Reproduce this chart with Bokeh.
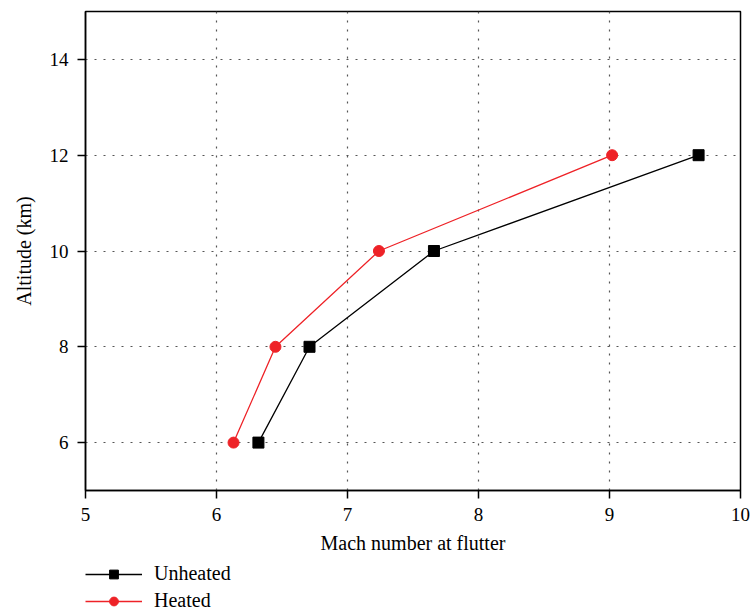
from bokeh.plotting import figure
from bokeh.layouts import column
from bokeh.models import Range1d, FixedTicker, Legend, LegendItem
from bokeh.embed import file_html
from bokeh.resources import INLINE

altitude_km = [6, 8, 10, 12]
mach_unheated = [6.32, 6.71, 7.66, 9.68]
mach_heated = [6.13, 6.45, 7.24, 9.02]
x_ticks = [5, 6, 7, 8, 9, 10]
y_ticks = [6, 8, 10, 12, 14]
series_names = ["Unheated", "Heated"]
series_colors = ["black", "#ee2227"]

FONT = "Liberation Serif"

p = figure(width=755, height=560, output_backend="svg", toolbar_location=None,
           x_range=Range1d(5, 10), y_range=Range1d(5, 15),
           min_border_left=85, min_border_right=15, min_border_top=11, min_border_bottom=70)

p.outline_line_color = "black"
p.outline_line_width = 1.5

for ax in (p.xaxis[0], p.yaxis[0]):
    ax.axis_line_width = 1.5
    ax.major_tick_line_width = 1.5
    ax.major_tick_out = 8
    ax.major_tick_in = 0
    ax.minor_tick_line_color = None
    ax.major_label_text_font = FONT
    ax.major_label_text_font_size = "19px"
    ax.major_label_text_color = "black"
    ax.axis_label_text_font = FONT
    ax.axis_label_text_font_size = "20px"
    ax.axis_label_text_font_style = "normal"
    ax.axis_label_text_color = "black"

p.xaxis.ticker = FixedTicker(ticks=x_ticks)
p.yaxis.ticker = FixedTicker(ticks=y_ticks)
p.xaxis.axis_label = "Mach number at flutter"
p.yaxis.axis_label = "Altitude (km)"
p.xaxis.major_label_standoff = 9
p.yaxis.major_label_standoff = 9
p.xaxis.axis_label_standoff = 8
p.yaxis.axis_label_standoff = 12

for g in (p.xgrid[0], p.ygrid[0]):
    g.grid_line_color = "#555555"
    g.grid_line_dash = "2 7"
    g.grid_line_width = 1.2

p.line(mach_unheated, altitude_km, line_color=series_colors[0], line_width=1.3)
p.scatter(mach_unheated, altitude_km, marker="square", size=11,
          fill_color=series_colors[0], line_color=series_colors[0])
p.line(mach_heated, altitude_km, line_color=series_colors[1], line_width=1.3)
p.scatter(mach_heated, altitude_km, marker="circle", size=11,
          fill_color=series_colors[1], line_color=series_colors[1])

# Legend below the chart, in its own strip (series renderers kept out of view)
lg = figure(width=755, height=54, output_backend="svg", toolbar_location=None,
            x_axis_type=None, y_axis_type=None, min_border=0,
            x_range=Range1d(100, 101), y_range=Range1d(100, 101))
lg.outline_line_color = None
lg.xgrid.visible = False
lg.ygrid.visible = False
k1 = lg.line(mach_unheated, altitude_km, line_color=series_colors[0], line_width=1.3)
s1 = lg.scatter(mach_unheated, altitude_km, marker="square", size=12,
                fill_color=series_colors[0], line_color=series_colors[0])
k2 = lg.line(mach_heated, altitude_km, line_color=series_colors[1], line_width=1.3)
s2 = lg.scatter(mach_heated, altitude_km, marker="circle", size=12,
                fill_color=series_colors[1], line_color=series_colors[1])

legend = Legend(items=[LegendItem(label=series_names[0], renderers=[k1, s1]),
                       LegendItem(label=series_names[1], renderers=[k2, s2])],
                location=(0, 2), orientation="vertical")
legend.label_text_font = FONT
legend.label_text_font_size = "20px"
legend.label_text_color = "black"
legend.glyph_width = 57
legend.glyph_height = 22
legend.spacing = 4
legend.label_standoff = 12
legend.padding = 0
legend.margin = 0
legend.border_line_color = None
legend.background_fill_alpha = 0
legend.label_height = 22
lg.add_layout(legend, "center")

layout = column(p, lg, spacing=0)
open("out.html", "w").write(file_html(layout, INLINE))
